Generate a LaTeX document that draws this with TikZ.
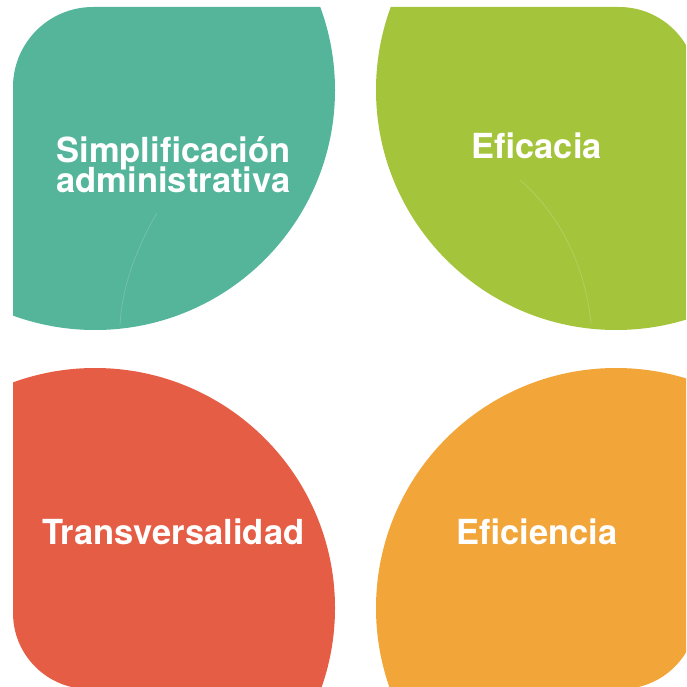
\documentclass[tikz,border=0pt]{standalone}
\usepackage{fontspec}
\setmainfont{TeX Gyre Heros}
\definecolor{cteal}{HTML}{55B59B}
\definecolor{cgreen}{HTML}{A4C43C}
\definecolor{cred}{HTML}{E65D46}
\definecolor{corange}{HTML}{F2A63A}
\tikzset{
  label/.style={text=white, font=\fontsize{34.5}{29.5}\selectfont\bfseries, inner sep=0pt, align=center, anchor=base},
  seam/.style={draw=white, draw opacity=0.18, line width=0.7pt}
}
\begin{document}
\begin{tikzpicture}[x=1pt,y=-1pt]
\useasboundingbox (0,0) rectangle (686,687);
\clip (0,0) rectangle (686,687);
% teal, top-left
\begin{scope}
  \clip[rounded corners=80pt] (13,7) rectangle (520,520);
  \fill[cteal] (95,90) circle[radius=240];
\end{scope}
% green, top-right
\begin{scope}
  \clip[rounded corners=78pt] (697,7) rectangle (180,520);
  \fill[cgreen] (616,90) circle[radius=240];
\end{scope}
% red, bottom-left
\begin{scope}
  \clip[rounded corners=76pt] (13,689) rectangle (520,170);
  \fill[cred] (95,608) circle[radius=240];
\end{scope}
% orange, bottom-right
\begin{scope}
  \clip[rounded corners=76pt] (697,689) rectangle (180,170);
  \fill[corange] (616,608) circle[radius=240];
\end{scope}
% faint seams
\draw[seam] (157,213) .. controls (138,245) and (122,285) .. (120,325);
\draw[seam] (520,180) .. controls (555,210) and (585,260) .. (591,324);
% labels
\node[label] (simp) at (173.5,193) {Simplificación\\[-4pt]administrativa};
\node[label] (efic) at (536.7,159) {Eficacia};
\node[label] (trans) at (173.3,544) {Transversalidad};
\node[label] (efi) at (536.7,544) {Eficiencia};
\end{tikzpicture}
\end{document}
